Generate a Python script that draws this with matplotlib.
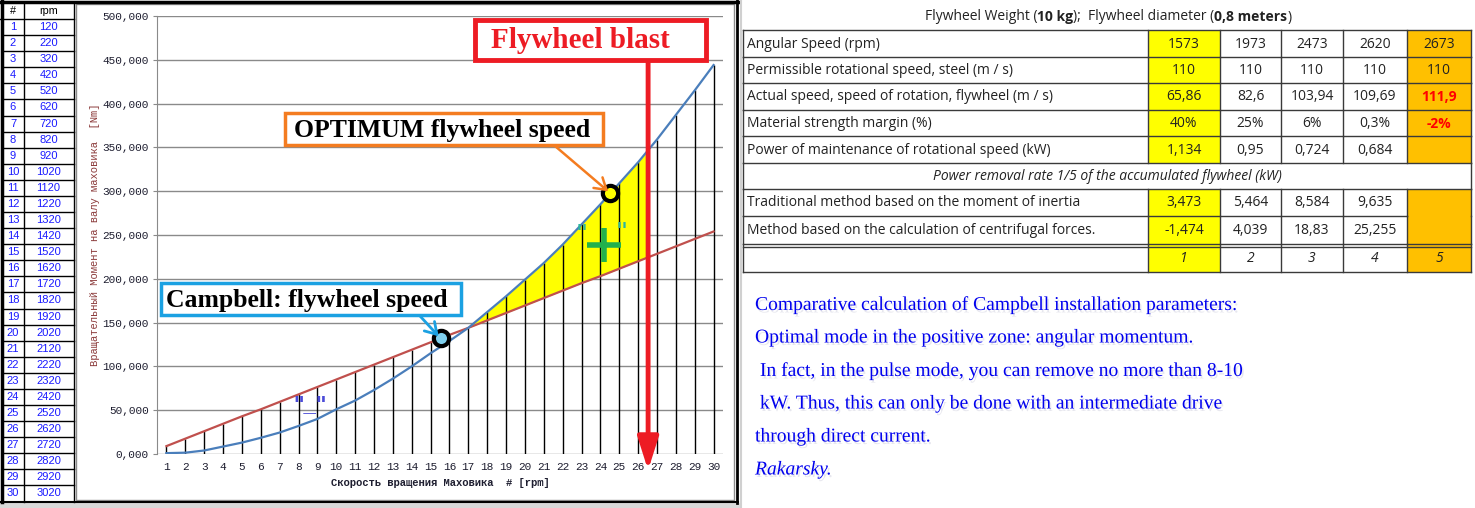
import numpy as np
import matplotlib
matplotlib.use("Agg")
import matplotlib.pyplot as plt
from matplotlib.patches import Rectangle
import matplotlib.patheffects as pe

# ---------------- data ----------------
row_num = list(range(1, 31))
rpm_values = [120, 220, 320, 420, 520, 620, 720, 820, 920, 1020,
              1120, 1220, 1320, 1420, 1520, 1620, 1720, 1820, 1920, 2020,
              2120, 2220, 2320, 2420, 2520, 2620, 2720, 2820, 2920, 3020]
# red series (nearly linear)
torque_red = [9000, 17500, 26000, 34500, 43000, 51000, 59500, 68000, 76500, 85000,
              93500, 102000, 110500, 119000, 127500, 136000, 144000, 152500, 161000, 169500,
              178000, 186500, 195000, 203000, 211500, 220000, 228500, 237000, 245500, 254000]
# blue series (growing curve)
torque_blue = [1000, 1500, 4000, 8500, 13000, 18500, 24500, 32000, 40000, 51000,
               61000, 73000, 86000, 100000, 115000, 129000, 144000, 162000, 180000, 199000,
               218000, 239000, 262000, 285000, 309000, 333000, 359000, 387000, 415000, 444000]
y_tick_values = [0, 50000, 100000, 150000, 200000, 250000, 300000, 350000, 400000, 450000, 500000]
y_tick_labels = ["0,000", "50,000", "100,000", "150,000", "200,000", "250,000",
                 "300,000", "350,000", "400,000", "450,000", "500,000"]

table_title_parts = ["Flywheel Weight (", "10 kg", ");  Flywheel diameter (", "0,8 meters", ")"]
row_labels = ["Angular Speed (rpm)",
              "Permissible rotational speed, steel (m / s)",
              "Actual speed, speed of rotation, flywheel (m / s)",
              "Material strength margin (%)",
              "Power of maintenance of rotational speed (kW)",
              "Power removal rate 1/5 of the accumulated flywheel (kW)",
              "Traditional method based on the moment of inertia",
              "Method based on the calculation of centrifugal forces.",
              ""]
angular_speed = [1573, 1973, 2473, 2620, 2673]
permissible_speed = ["110", "110", "110", "110", "110"]
actual_speed = ["65,86", "82,6", "103,94", "109,69", "111,9"]
strength_margin = ["40%", "25%", "6%", "0,3%", "-2%"]
maintenance_power = ["1,134", "0,95", "0,724", "0,684", ""]
traditional_method = ["3,473", "5,464", "8,584", "9,635"]
centrifugal_method = ["-1,474", "4,039", "18,83", "25,255"]
column_numbers = ["1", "2", "3", "4", "5"]

note_lines = ["Comparative calculation of Campbell installation parameters:",
              "Optimal mode in the positive zone: angular momentum.",
              " In fact, in the pulse mode, you can remove no more than 8-10",
              " kW. Thus, this can only be done with an intermediate drive",
              "through direct current.",
              "Rakarsky."]

# ---------------- figure ----------------
W, H = 1475, 508
fig = plt.figure(figsize=(W / 100, H / 100), dpi=100)
fig.patch.set_facecolor("white")
bg = fig.add_axes([0, 0, 1, 1], zorder=0)
bg.set_xlim(0, W)
bg.set_ylim(H, 0)
bg.axis("off")

# frame of left part
bg.add_patch(Rectangle((0, 503), 741, 5, color="#d9d9d9", lw=0))
bg.add_patch(Rectangle((76, 4), 658, 496, fill=False, ec="#8c8c8c", lw=1))
bg.plot([0, 738], [1.5, 1.5], color="black", lw=2.5)
bg.plot([736.5, 736.5], [0, 503], color="black", lw=2)
bg.plot([0, 738], [501.5, 501.5], color="black", lw=1.5)
bg.plot([740.5, 740.5], [0, 508], color="#d0d0d0", lw=1.5)

# ---------------- left table ----------------
lt_x = [1.5, 24, 73.5]
lt_top, lt_head, lt_bot = 3, 19, 501.5
rh = (lt_bot - lt_head) / len(row_num)
bg.plot([1.5, 1.5], [0, lt_bot], color="black", lw=2.5)
for xx in lt_x[1:]:
    bg.plot([xx, xx], [lt_top, lt_bot], color="black", lw=1)
bg.plot([0, 74], [lt_head, lt_head], color="black", lw=1)
for i in range(1, len(row_num)):
    yy = lt_head + i * rh
    bg.plot([1.5, 73.5], [yy, yy], color="black", lw=1)
bg.text(13, 11.5, "#", ha="center", va="center", fontsize=7.8, family="Liberation Sans", color="black")
bg.text(48.5, 11.5, "rpm", ha="center", va="center", fontsize=7.8, family="Liberation Sans", color="black")
for i, (n, r) in enumerate(zip(row_num, rpm_values)):
    yc = lt_head + (i + 0.5) * rh
    bg.text(13, yc, str(n), ha="center", va="center", fontsize=8, family="Liberation Sans", color="#1a1aff")
    bg.text(48.5, yc, str(r), ha="center", va="center", fontsize=8, family="Liberation Sans", color="#1a1aff")

# ---------------- chart ----------------
ax = fig.add_axes([157 / W, (H - 454) / H, (723 - 157) / W, (454 - 16) / H], zorder=1)
ax.set_facecolor("white")
x = np.array(row_num, dtype=float)
red = np.array(torque_red, dtype=float)
blue = np.array(torque_blue, dtype=float)
ax.set_xlim(0.5, 30.5)
ax.set_ylim(0, 500000)
ax.set_yticks(y_tick_values)
ax.set_yticklabels(y_tick_labels)
ax.set_xticks(row_num)
ax.set_xticklabels([str(v) for v in row_num])
ax.yaxis.grid(True, color="#8a8a8a", lw=1)
ax.set_axisbelow(True)
for s in ["top", "right", "bottom"]:
    ax.spines[s].set_visible(False)
ax.spines["left"].set_color("#8a8a8a")
ax.tick_params(axis="y", length=3, color="#8a8a8a", pad=3, labelsize=8, labelcolor="#1e1e30")
ax.tick_params(axis="x", length=0, pad=6, labelsize=8, labelcolor="#1e1e30")
for lab in ax.get_xticklabels() + ax.get_yticklabels():
    lab.set_family("Liberation Mono")
ax.set_xlabel("Скорость вращения Маховика  # [rpm]", family="Liberation Mono", fontsize=7.6,
              fontweight="bold", labelpad=4, color="#1e1e30")
ax.set_ylabel("Вращательный Момент на валу маховика  [Nm]", family="Liberation Mono", fontsize=7.6,
              labelpad=2, color="#8b3a3a")

# index positions of the table's rpm values on the category axis
blast_idx = np.interp(angular_speed[4], rpm_values, row_num)
campbell_idx = np.interp(angular_speed[0], rpm_values, row_num)
optimum_idx = np.interp(angular_speed[2], rpm_values, row_num)

# yellow zone between curves, up to the blast point
xf = np.linspace(1, blast_idx, 800)
rf = np.interp(xf, x, red)
bf = np.interp(xf, x, blue)
ax.fill_between(xf, rf, bf, where=bf >= rf, interpolate=True, color="#ffff00", lw=0, zorder=1)

ax.vlines(x, 0, np.maximum(red, blue), color="black", lw=1, zorder=2)
ax.plot(x, red, color="#c0504d", lw=1.6, zorder=3)
ax.plot(x, blue, color="#4a7ebb", lw=1.6, zorder=3)

# marker circles
ax.plot([campbell_idx], [np.interp(campbell_idx, x, red)], "o", ms=11, mfc="#7fd0ee", mec="black", mew=3,
        zorder=5, clip_on=False)
ax.plot([optimum_idx], [np.interp(optimum_idx, x, blue)], "o", ms=11, mfc="#ffff00", mec="black", mew=3,
        zorder=5, clip_on=False)

# arrows
ax.annotate("", xy=(blast_idx, -0.037), xycoords=("data", "axes fraction"),
            xytext=(blast_idx, 0.9), textcoords=("data", "axes fraction"),
            arrowprops=dict(arrowstyle="-|>,head_length=1.1,head_width=0.35", color="#ed1c24", lw=3.5,
                            mutation_scale=18, shrinkA=0, shrinkB=0), annotation_clip=False, zorder=6)
ax.annotate("", xy=(optimum_idx, np.interp(optimum_idx, x, blue)), xycoords="data",
            xytext=(555, H - 146), textcoords="figure pixels",
            arrowprops=dict(arrowstyle="->,head_length=0.8,head_width=0.5", color="#f47c20", lw=1.8,
                            shrinkA=0, shrinkB=2), annotation_clip=False, zorder=6)
ax.annotate("", xy=(campbell_idx, np.interp(campbell_idx, x, red)), xycoords="data",
            xytext=(420, H - 316), textcoords="figure pixels",
            arrowprops=dict(arrowstyle="->,head_length=0.8,head_width=0.5", color="#1ba1e2", lw=2,
                            shrinkA=0, shrinkB=2), annotation_clip=False, zorder=6)

# ---------------- overlay (boxes, marks) ----------------
ov = fig.add_axes([0, 0, 1, 1], zorder=3)
ov.set_xlim(0, W)
ov.set_ylim(H, 0)
ov.axis("off")
ov.patch.set_alpha(0)


def box(x0, y0, x1, y1, ec, lw, text, tcolor, fs, tx=None):
    ov.add_patch(Rectangle((x0, y0), x1 - x0, y1 - y0, fc="white", ec=ec, lw=lw, zorder=4))
    ov.text((x0 + x1) / 2 if tx is None else tx, (y0 + y1) / 2 + 1, text, ha="center", va="center",
            family="Liberation Serif", fontweight="bold", fontsize=fs, color=tcolor, zorder=5)


box(475, 20, 706, 60, "#ed1c24", 3.5, "Flywheel blast", "#ed1c24", 21, tx=580)
box(285, 113, 603, 145, "#f47c20", 2.5, "OPTIMUM flywheel speed", "black", 18.5, tx=442)
box(161, 283, 461, 315, "#1ba1e2", 2.5, "Campbell: flywheel speed", "black", 18.5, tx=307)

# green "+" sign with quotes
ov.plot([604], [244.5], marker="+", ms=25, mew=4, color="#22b14c", zorder=5)
ov.text(582, 236, "\"", ha="center", va="center", fontsize=20, color="#2bb5a0", family="Liberation Sans", zorder=5)
ov.text(622, 234, "\"", ha="center", va="center", fontsize=20, color="#2bb5a0", family="Liberation Sans", zorder=5)
ov.text(310, 405, "\"_\"", ha="center", va="center", fontsize=16, fontweight="bold", color="#4b4bd8",
        family="Liberation Sans", zorder=5)

# ---------------- right table ----------------
renderer = fig.canvas.get_renderer()
tfont = "Open Sans"
tfs = 10
# title with bold pieces
pieces = []
cx = 0
for k, part in enumerate(table_title_parts):
    t = bg.text(cx, 17, part, ha="left", va="center", family=tfont, fontsize=tfs,
                fontweight="bold" if k % 2 == 1 else "normal", color="#222222")
    cx += t.get_window_extent(renderer).width
    pieces.append(t)
shift = 1108 - cx / 2
for t in pieces:
    px, py = t.get_position()
    t.set_position((px + shift, py))

cols_x = [743, 1148, 1220, 1281, 1343, 1407, 1471]
rows_y = [30, 57, 83, 110, 136, 163, 189, 216, 244, 272]
yellow, orange = "#ffff00", "#ffc000"
for r in [0, 1, 2, 3, 4, 6, 7, 8]:
    bg.add_patch(Rectangle((cols_x[1], rows_y[r]), cols_x[2] - cols_x[1], rows_y[r + 1] - rows_y[r],
                           color=yellow, lw=0, zorder=1))
    bg.add_patch(Rectangle((cols_x[5], rows_y[r]), cols_x[6] - cols_x[5], rows_y[r + 1] - rows_y[r],
                           color=orange, lw=0, zorder=1))
lc = "#3a3a3a"
for k, yy in enumerate(rows_y):
    x1 = cols_x[5] if k == 7 else cols_x[6]
    bg.plot([cols_x[0], x1], [yy, yy], color=lc, lw=1, zorder=2)
bg.plot([cols_x[0], cols_x[6]], [rows_y[8] + 2.5, rows_y[8] + 2.5], color=lc, lw=1, zorder=2)
for xx in cols_x:
    for r in range(9):
        if r == 5 and xx not in (cols_x[0], cols_x[6]):
            continue
        bg.plot([xx, xx], [rows_y[r], rows_y[r + 1]], color=lc, lw=1, zorder=2)

for r, lab in enumerate(row_labels):
    yc = (rows_y[r] + rows_y[r + 1]) / 2 + 0.5
    if r == 5:
        bg.text((cols_x[0] + cols_x[6]) / 2, yc, lab, ha="center", va="center", family=tfont,
                fontsize=tfs, style="italic", color="#222222", zorder=3)
    elif lab:
        bg.text(cols_x[0] + 4, yc, lab, ha="left", va="center", family=tfont, fontsize=tfs,
                color="#222222", zorder=3)

value_rows = [[str(v) for v in angular_speed], permissible_speed, actual_speed, strength_margin,
              maintenance_power, None, traditional_method, centrifugal_method, column_numbers]
for r, vals in enumerate(value_rows):
    if vals is None:
        continue
    yc = (rows_y[r] + rows_y[r + 1]) / 2 + 0.5
    for c, v in enumerate(vals):
        xc = (cols_x[c + 1] + cols_x[c + 2]) / 2
        red_cell = (c == 4 and r in (2, 3))
        bg.text(xc, yc, v, ha="center", va="center", family=tfont, fontsize=tfs,
                style="italic" if r == 8 else "normal",
                fontweight="bold" if red_cell else "normal",
                color="#ff0000" if red_cell else "#222222", zorder=3)

# ---------------- note text ----------------
note_y = [305, 338, 371, 404, 437, 470]
shadow = [pe.SimplePatchShadow(offset=(1.2, -1.8), shadow_rgbFace="#b0b0c8", alpha=0.3), pe.Normal()]
for k, (line, yy) in enumerate(zip(note_lines, note_y)):
    bg.text(755, yy, line, ha="left", va="center", family="Liberation Serif", fontsize=14.1,
            style="italic" if k == 5 else "normal", color="#0000ee", path_effects=shadow, zorder=3)

fig.savefig("out.png", dpi=100)
